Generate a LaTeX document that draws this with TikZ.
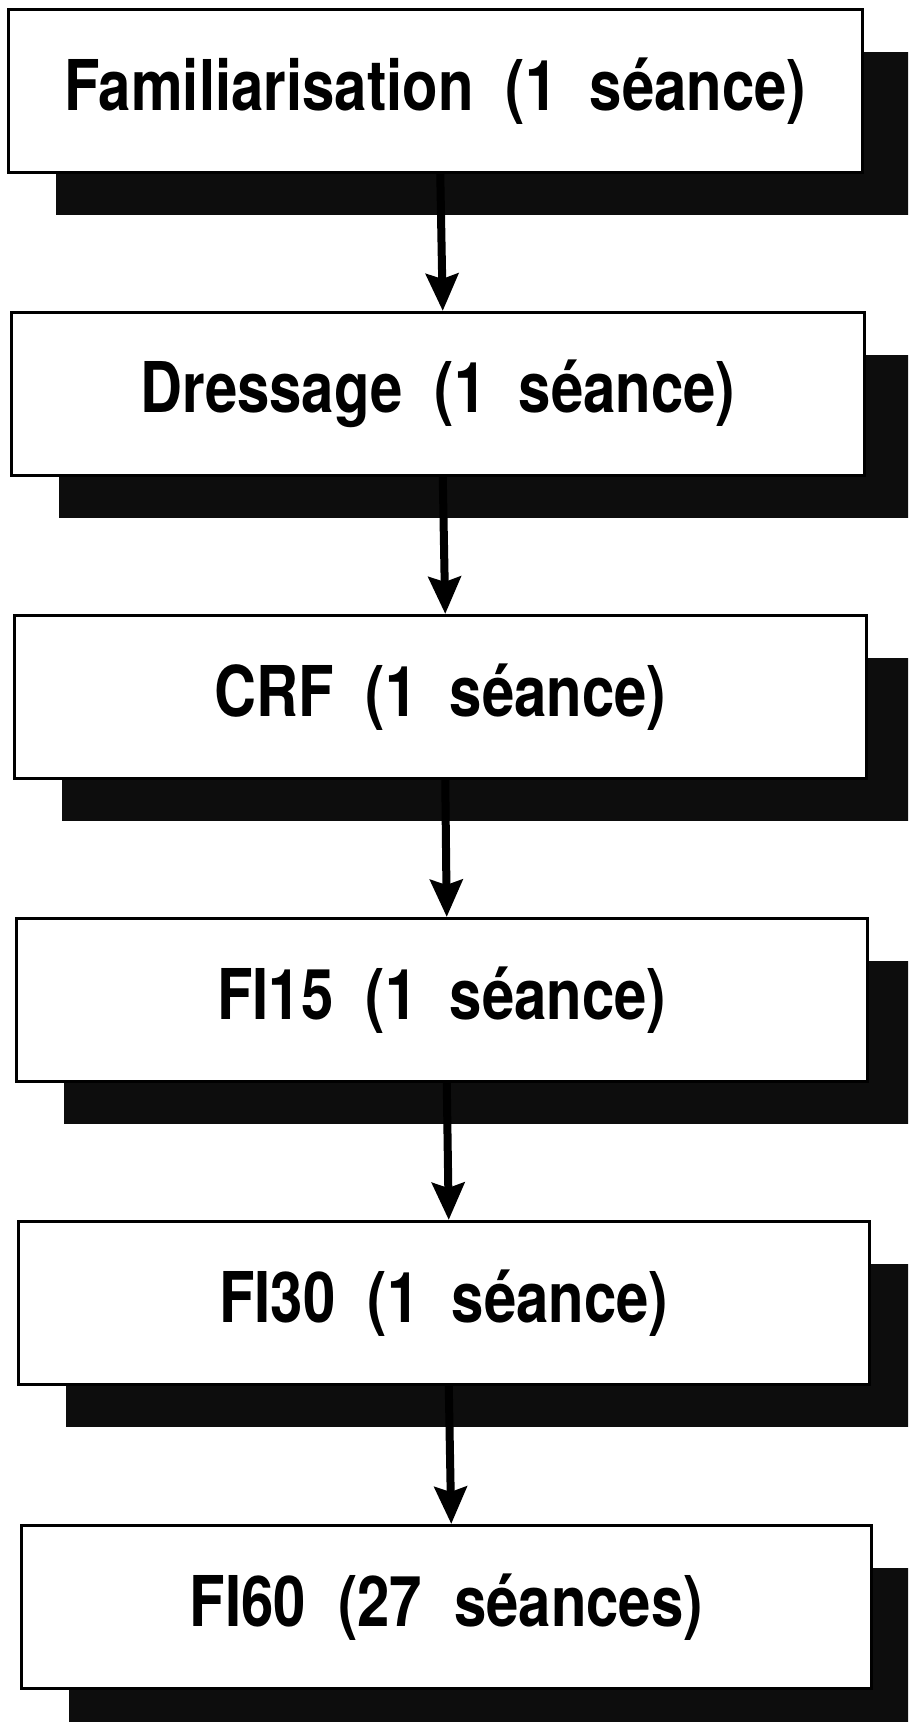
\documentclass[tikz,border=0pt]{standalone}
\usepackage{fontspec}
\newfontfamily\hvfont[FakeStretch=0.83]{TeX Gyre Heros}
\usetikzlibrary{arrows.meta,shadows}
\begin{document}
\begin{tikzpicture}[x=1pt,y=-1pt,
  stage/.style={draw=black, line width=2.5pt, fill=white, anchor=north west,
    inner sep=0pt, minimum height=163pt,
    font=\hvfont\bfseries\fontsize{70}{74}\selectfont,
    drop shadow={shadow xshift=48pt, shadow yshift=-43pt, fill=black!95, opacity=1}},
  flow/.style={line width=8pt, -{Stealth[length=37pt,width=32pt,inset=5pt]}}]
\useasboundingbox (0,0) rectangle (908,1722);
\clip (0,0) rectangle (908,1722);
\node[stage, minimum width=854pt] (b1) at (7,8)    {Familiarisation\ \ (1\ \ séance)};
\node[stage, minimum width=853pt] (b2) at (10,311) {Dressage\ \ (1\ \ séance)};
\node[stage, minimum width=852pt] (b3) at (13,614) {CRF\ \ (1\ \ séance)};
\node[stage, minimum width=851pt] (b4) at (15,917) {FI15\ \ (1\ \ séance)};
\node[stage, minimum width=851pt] (b5) at (17,1220) {FI30\ \ (1\ \ séance)};
\node[stage, minimum width=850pt] (b6) at (20,1524) {FI60\ \ (27\ \ séances)};
\draw[flow] ([xshift=5pt]b1.south) -- ([xshift=5pt]b2.north);
\draw[flow] ([xshift=5pt]b2.south) -- ([xshift=5pt]b3.north);
\draw[flow] ([xshift=5pt]b3.south) -- ([xshift=5pt]b4.north);
\draw[flow] ([xshift=5pt]b4.south) -- ([xshift=5pt]b5.north);
\draw[flow] ([xshift=5pt]b5.south) -- ([xshift=5pt]b6.north);
\end{tikzpicture}
\end{document}
